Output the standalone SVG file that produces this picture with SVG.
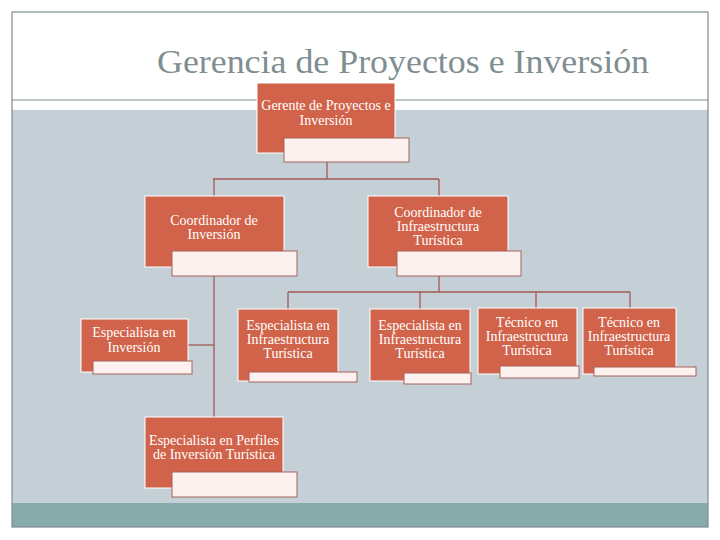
<svg xmlns="http://www.w3.org/2000/svg" width="720" height="540" viewBox="0 0 720 540">
<style>
.box{fill:#D1634A;stroke:#FFFFFF;stroke-width:1}
.sub{fill:#FCF1EF;stroke:#A5625C;stroke-width:1}
.lbl{font-family:"Liberation Serif","DejaVu Serif",serif;font-size:14px;fill:#FFFFFF;text-anchor:middle}
.con{stroke:#A05A56;stroke-width:1.3;fill:none}
</style>
<rect x="0" y="0" width="720" height="540" fill="#FFFFFF"/>
<rect x="12" y="110" width="696" height="393" fill="#C5D0D6"/>
<rect x="12" y="503" width="696" height="24" fill="#87ABAA"/>
<line x1="12" y1="100" x2="708" y2="100" stroke="#7D8B8F" stroke-width="1.2"/>
<rect x="12" y="12" width="696" height="515" fill="none" stroke="#7D8B8F" stroke-width="1.2"/>
<text x="403" y="73" font-family="Liberation Serif, serif" font-size="33" fill="#7F8E90" text-anchor="middle" textLength="492" lengthAdjust="spacingAndGlyphs">Gerencia de Proyectos e Inversión</text>

<g id="connectors" class="con">
<polyline points="327,162 327,179"/>
<line x1="213" y1="179" x2="439" y2="179"/>
<line x1="214" y1="179" x2="214" y2="196"/>
<line x1="439" y1="179" x2="439" y2="196"/>
<line x1="214" y1="276" x2="214" y2="417"/>
<line x1="188" y1="345" x2="214" y2="345"/>
<line x1="439" y1="276" x2="439" y2="292"/>
<line x1="288" y1="292" x2="630" y2="292"/>
<line x1="288" y1="292" x2="288" y2="309"/>
<line x1="420" y1="292" x2="420" y2="309"/>
<line x1="536" y1="292" x2="536" y2="308"/>
<line x1="630" y1="292" x2="630" y2="308"/>
</g>

<g id="gerente">
<rect class="box" x="257" y="83" width="138" height="70"/>
<rect class="sub" x="284" y="138" width="125" height="24"/>
<text class="lbl" x="326" y="110">Gerente de Proyectos e</text>
<text class="lbl" x="326" y="125">Inversión</text>
</g>

<g id="coord-inversion">
<rect class="box" x="145" y="196" width="139" height="71"/>
<rect class="sub" x="172" y="251" width="125" height="25"/>
<text class="lbl" x="214" y="225">Coordinador de</text>
<text class="lbl" x="214" y="239">Inversión</text>
</g>

<g id="coord-infra">
<rect class="box" x="368" y="196" width="140" height="71"/>
<rect class="sub" x="397" y="251" width="124" height="25"/>
<text class="lbl" x="438" y="217">Coordinador de</text>
<text class="lbl" x="438" y="231">Infraestructura</text>
<text class="lbl" x="438" y="245">Turística</text>
</g>

<g id="esp-inversion">
<rect class="box" x="81" y="319" width="107" height="53"/>
<rect class="sub" x="93" y="361" width="99" height="13"/>
<text class="lbl" x="134" y="337">Especialista en</text>
<text class="lbl" x="134" y="352">Inversión</text>
</g>

<g id="esp-infra-1">
<rect class="box" x="238" y="309" width="100" height="72"/>
<rect class="sub" x="249" y="372" width="108" height="10"/>
<text class="lbl" x="288" y="330">Especialista en</text>
<text class="lbl" x="288" y="344">Infraestructura</text>
<text class="lbl" x="288" y="358">Turística</text>
</g>

<g id="esp-infra-2">
<rect class="box" x="370" y="309" width="100" height="72"/>
<rect class="sub" x="404" y="373" width="67" height="11"/>
<text class="lbl" x="420" y="330">Especialista en</text>
<text class="lbl" x="420" y="344">Infraestructura</text>
<text class="lbl" x="420" y="358">Turística</text>
</g>

<g id="tecnico-1">
<rect class="box" x="478" y="308" width="99" height="66"/>
<rect class="sub" x="500" y="366" width="79" height="12"/>
<text class="lbl" x="527" y="327">Técnico en</text>
<text class="lbl" x="527" y="341">Infraestructura</text>
<text class="lbl" x="527" y="355">Turística</text>
</g>

<g id="tecnico-2">
<rect class="box" x="583" y="308" width="93" height="66"/>
<rect class="sub" x="594" y="367" width="102" height="9"/>
<text class="lbl" x="629" y="327">Técnico en</text>
<text class="lbl" x="629" y="341">Infraestructura</text>
<text class="lbl" x="629" y="355">Turística</text>
</g>

<g id="esp-perfiles">
<rect class="box" x="145" y="417" width="138" height="71"/>
<rect class="sub" x="172" y="472" width="125" height="25"/>
<text class="lbl" x="214" y="445">Especialista en Perfiles</text>
<text class="lbl" x="214" y="459">de Inversión Turística</text>
</g>
</svg>
